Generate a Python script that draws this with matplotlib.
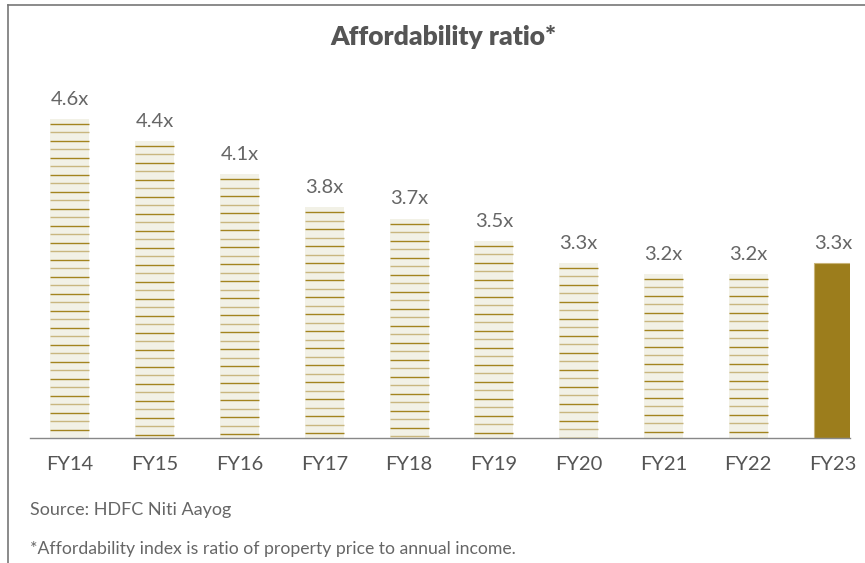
import numpy as np
import matplotlib.pyplot as plt
from matplotlib.lines import Line2D

years = ['FY14', 'FY15', 'FY16', 'FY17', 'FY18', 'FY19', 'FY20', 'FY21', 'FY22', 'FY23']
ratio = [4.6, 4.4, 4.1, 3.8, 3.7, 3.5, 3.3, 3.2, 3.2, 3.3]
labels = ['4.6x', '4.4x', '4.1x', '3.8x', '3.7x', '3.5x', '3.3x', '3.2x', '3.2x', '3.3x']

plt.rcParams['font.family'] = ['Lato', 'DejaVu Sans']

fig = plt.figure(figsize=(8.65, 5.63), dpi=100)
ax = fig.add_axes([30 / 865, 1 - 438 / 563, 820 / 865, 358 / 563])

ybase = 1.72
ytop = 4.95
ax.set_xlim(-0.47, 9.2)
ax.set_ylim(ybase, ytop)

x = np.arange(len(years))
bw = 0.46
gold = '#9c7d1c'
beige = '#f2f1e6'

# striped bars for history, solid bar for latest year
step = 8.5 * (ytop - ybase) / 358  # ~8.5 px between stripes
for i, v in enumerate(ratio):
    if i == len(ratio) - 1:
        ax.bar(x[i], v - ybase, bottom=ybase, width=bw, color=gold,
               edgecolor='#c9b478', linewidth=0.8, zorder=2)
    else:
        ax.bar(x[i], v - ybase, bottom=ybase, width=bw, color=beige,
               linewidth=0, zorder=2)
        ys = np.arange(v - 5 * step / 8.5, ybase, -step)
        cols = ['#a3841f' if k % 2 == 0 else '#c9b67f' for k in range(len(ys))]
        lc = ax.hlines(ys, x[i] - bw / 2, x[i] + bw / 2, colors=cols,
                       linewidth=1.0, zorder=3)
        lc.set_snap(True)
    ax.text(x[i], v + 0.1, labels[i], ha='center', va='bottom',
            fontsize=14.5, color='#666666')

for s in ['top', 'right', 'left']:
    ax.spines[s].set_visible(False)
ax.spines['bottom'].set_color('#888888')
ax.spines['bottom'].set_linewidth(1.0)
ax.set_yticks([])
ax.set_xticks(x)
ax.set_xticklabels(years, fontsize=14.5, color='#555555')
ax.tick_params(axis='x', length=0, pad=13)

fig.text(443 / 865, 1 - 37 / 563, 'Affordability ratio*', ha='center', va='center',
         fontsize=19, fontweight='heavy', color='#555555')
fig.text(30 / 865, 1 - 510 / 563, 'Source: HDFC Niti Aayog', ha='left', va='center',
         fontsize=13, color='#666666')
fig.text(30 / 865, 1 - 549 / 563,
         '*Affordability index is ratio of property price to annual income.',
         ha='left', va='center', fontsize=12.7, color='#666666')

# outer frame (top and left edges)
fig.add_artist(Line2D([8 / 865, 1], [1 - 5 / 563, 1 - 5 / 563],
                      transform=fig.transFigure, color='#777777', linewidth=1.2))
fig.add_artist(Line2D([8 / 865, 8 / 865], [0, 1 - 5 / 563],
                      transform=fig.transFigure, color='#777777', linewidth=1.2))

fig.savefig('out.png', dpi=100)
